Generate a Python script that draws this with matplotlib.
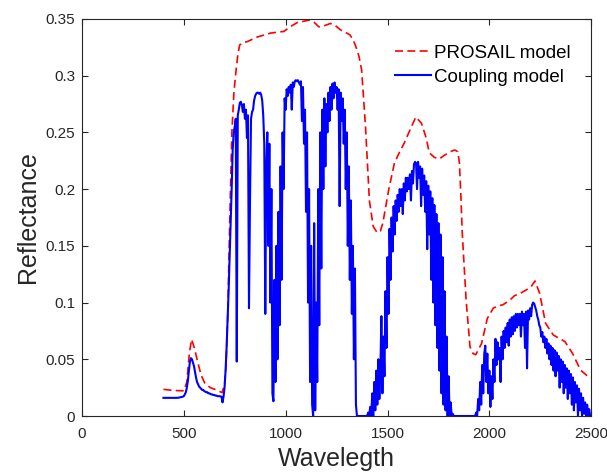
#%% Import libs
import numpy as np
import matplotlib
matplotlib.use("Agg")
import matplotlib.pyplot as plt

plt.rcParams['font.family'] = ['Liberation Sans', 'DejaVu Sans']

#%% PROSAIL model (red dashed)
prosail_wl = [400, 450, 500, 515, 527, 538, 552, 565, 585, 603, 630, 660, 688,
              700, 707, 716, 726, 736, 746, 755, 765, 774, 790, 812, 860, 926,
              992, 1021, 1059, 1090, 1116, 1140, 1163, 1190, 1220, 1245, 1268,
              1295, 1315, 1330, 1344, 1360, 1373, 1392, 1411, 1430, 1449, 1465,
              1477, 1506, 1534, 1560, 1582, 1610, 1639, 1667, 1690, 1705, 1730,
              1753, 1781, 1810, 1829, 1845, 1853, 1860, 1867, 1886, 1905, 1920,
              1933, 1962, 1990, 2019, 2040, 2066, 2100, 2123, 2150, 2180, 2205,
              2224, 2247, 2276, 2314, 2371, 2409, 2447, 2485, 2500]
prosail_r = [0.0235, 0.0225, 0.0222, 0.030, 0.055, 0.0676, 0.060, 0.050, 0.036,
             0.029, 0.025, 0.023, 0.0206, 0.028, 0.0435, 0.09, 0.176, 0.25, 0.285,
             0.302, 0.318, 0.327, 0.329, 0.330, 0.334, 0.3375, 0.339, 0.343, 0.347,
             0.348, 0.349, 0.347, 0.343, 0.344, 0.346, 0.344, 0.3405, 0.338, 0.336,
             0.332, 0.326, 0.317, 0.305, 0.255, 0.19, 0.167, 0.1617, 0.163, 0.17,
             0.1995, 0.223, 0.233, 0.2405, 0.252, 0.2635, 0.258, 0.245, 0.232,
             0.228, 0.2265, 0.230, 0.233, 0.2345, 0.233, 0.223, 0.195, 0.161, 0.102,
             0.061, 0.055, 0.054, 0.064, 0.086, 0.095, 0.097, 0.098, 0.102, 0.106,
             0.108, 0.111, 0.114, 0.119, 0.108, 0.0817, 0.0714, 0.0656, 0.055,
             0.0406, 0.0347, 0.034]

#%% Coupling model (blue), 5 nm steps, one list per spectral segment
coupling_vis = [0.016] * 15 + [
    0.0162, 0.0163, 0.0165, 0.0168, 0.017, 0.0175, 0.019, 0.021, 0.025, 0.031,
    0.040, 0.048, 0.051, 0.050, 0.047, 0.044, 0.039, 0.034, 0.030, 0.028,
    0.026, 0.025, 0.024, 0.023, 0.023, 0.022, 0.0215, 0.021, 0.021, 0.020,
    0.020, 0.0195, 0.019, 0.019, 0.0185, 0.0185, 0.018, 0.018, 0.0175, 0.0175,
    0.0175, 0.0172, 0.017, 0.012, 0.017]
coupling_nir = [
    0.025, 0.04, 0.06, 0.085, 0.11, 0.14, 0.17, 0.2, 0.235, 0.25,
    0.255, 0.262, 0.048, 0.265, 0.27, 0.276, 0.277, 0.274, 0.268, 0.275,
    0.262, 0.27, 0.245, 0.265, 0.095, 0.19, 0.262, 0.268, 0.27, 0.278,
    0.282, 0.284, 0.285, 0.285, 0.284, 0.285, 0.283, 0.278, 0.265, 0.24,
    0.09, 0.22, 0.25, 0.15, 0.24, 0.1, 0.2, 0.02, 0.013, 0.12,
    0.03, 0.15, 0.05, 0.18, 0.08, 0.22, 0.12, 0.25, 0.2, 0.28,
    0.27, 0.288, 0.282, 0.29, 0.285, 0.292, 0.27, 0.294, 0.29, 0.295,
    0.296, 0.295, 0.296, 0.294, 0.292, 0.295, 0.26, 0.29, 0.24, 0.27,
    0.18, 0.25, 0.1, 0.2, 0.03, 0.15, 0.01, 0.0, 0.17, 0.005,
    0.1, 0.03, 0.2, 0.08, 0.25, 0.13, 0.27, 0.2, 0.28, 0.22,
    0.275, 0.25, 0.285, 0.26, 0.29, 0.27, 0.293, 0.28, 0.294, 0.285,
    0.29, 0.27, 0.288, 0.185, 0.285, 0.26, 0.28, 0.24, 0.27, 0.2,
    0.25, 0.15, 0.22, 0.12, 0.19, 0.09, 0.15, 0.05, 0.13, 0.01]
coupling_swir1 = [0.0] * 11 + [
    0.003, 0.0, 0.008, 0.0, 0.02, 0.0, 0.03, 0.005, 0.04, 0.01,
    0.05, 0.015, 0.04, 0.088, 0.02, 0.07, 0.035, 0.11, 0.06, 0.14,
    0.09, 0.165, 0.12, 0.175, 0.145, 0.185, 0.16, 0.19, 0.172, 0.195,
    0.18, 0.2, 0.185, 0.2, 0.178, 0.205, 0.19, 0.21, 0.198, 0.21,
    0.2, 0.213, 0.19, 0.216, 0.205, 0.222, 0.224, 0.223, 0.2, 0.224,
    0.21, 0.22, 0.185, 0.218, 0.195, 0.212, 0.18, 0.207, 0.147, 0.203,
    0.16, 0.198, 0.12, 0.192, 0.1, 0.186, 0.08, 0.178, 0.06, 0.17,
    0.04, 0.16, 0.02, 0.14, 0.01, 0.11, 0.005, 0.07, 0.0, 0.035,
    0.0, 0.012, 0.0, 0.002, 0.0]
coupling_swir2 = [0.0] * 20 + [
    0.0, 0.003, 0.0, 0.015, 0.005, 0.03, 0.01, 0.045, 0.02, 0.055,
    0.062, 0.03, 0.055, 0.02, 0.04, 0.008, 0.035, 0.015, 0.05, 0.03,
    0.068, 0.045, 0.065, 0.05, 0.06, 0.03, 0.07, 0.05, 0.075, 0.06,
    0.078, 0.065, 0.082, 0.062, 0.085, 0.07, 0.087, 0.072, 0.088, 0.075,
    0.09, 0.078, 0.09, 0.08, 0.09, 0.07, 0.092, 0.08, 0.09, 0.06,
    0.092, 0.042, 0.093, 0.085, 0.095, 0.088, 0.098, 0.1, 0.099, 0.096,
    0.093, 0.088, 0.085, 0.08, 0.078, 0.07, 0.074, 0.065, 0.07, 0.06,
    0.068, 0.055, 0.064, 0.05, 0.062, 0.045, 0.06, 0.04, 0.058, 0.035,
    0.056, 0.04, 0.053, 0.025, 0.05, 0.03, 0.048, 0.02, 0.045, 0.025,
    0.042, 0.015, 0.04, 0.02, 0.037, 0.01, 0.034, 0.005, 0.03, 0.012,
    0.027, 0.0, 0.024, 0.005, 0.02, 0.0, 0.016, 0.002, 0.012, 0.0,
    0.01, 0.0, 0.006, 0.0, 0.0]
segment_start = [400, 700, 1350, 1830]

coupling_wl = []
coupling_r = []
for start, seg in zip(segment_start, [coupling_vis, coupling_nir, coupling_swir1, coupling_swir2]):
    coupling_wl.extend(start + 5 * np.arange(len(seg)))
    coupling_r.extend(seg)

x_ticks = [0, 500, 1000, 1500, 2000, 2500]
y_ticks = [0, 0.05, 0.1, 0.15, 0.2, 0.25, 0.3, 0.35]

#%% Plot
fig = plt.figure(figsize=(6.07, 4.73), dpi=100)
ax = fig.add_axes([0.135, 0.1205, 0.839, 0.8395])
ax.plot(prosail_wl, prosail_r, color='#ff0000', lw=1.2, dashes=(4.8, 2.6),
        label='PROSAIL model')
ax.plot(coupling_wl, coupling_r, '-', color='#0000ff', lw=1.5, label='Coupling model')

ax.set_xlim(0, 2500)
ax.set_ylim(0, 0.35)
ax.set_xticks(x_ticks)
ax.set_yticks(y_ticks)
ax.set_yticklabels(['%g' % v for v in y_ticks])
ax.tick_params(direction='in', top=True, right=True, length=4, width=0.8,
               labelsize=11, colors='#262626')
ax.tick_params(axis='x', pad=8)
ax.tick_params(axis='y', pad=5)
for s in ax.spines.values():
    s.set_color('#262626')
    s.set_linewidth(0.8)

ax.set_xlabel('Wavelegth', fontsize=18, color='#262626', labelpad=4)
ax.set_ylabel('Reflectance', fontsize=18, color='#262626', labelpad=4)
ax.legend(loc='upper left', bbox_to_anchor=(0.582, 0.977), frameon=False,
          fontsize=13.5, handlelength=1.9, handletextpad=0.18, labelspacing=0.35)

fig.savefig('out.png', dpi=100)
